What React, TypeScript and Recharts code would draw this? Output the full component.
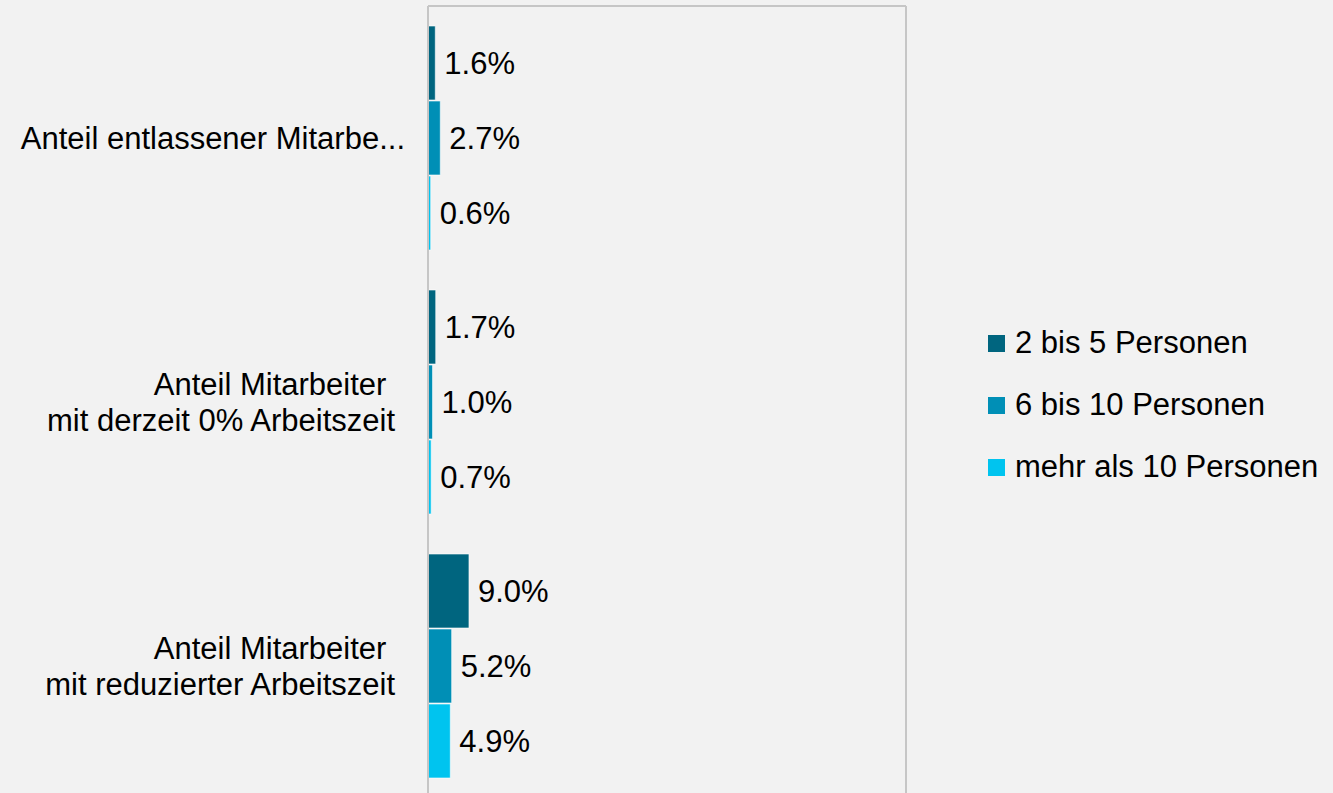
import { Bar, BarChart, LabelList, ReferenceLine, XAxis, YAxis } from 'recharts'

const categories = [
  ['Anteil entlassener Mitarbe...'],
  ['Anteil Mitarbeiter ', 'mit derzeit 0% Arbeitszeit'],
  ['Anteil Mitarbeiter ', 'mit reduzierter Arbeitszeit'],
]
const seriesNames = ['2 bis 5 Personen', '6 bis 10 Personen', 'mehr als 10 Personen']
const small = [1.6, 1.7, 9.0]
const medium = [2.7, 1.0, 5.2]
const large = [0.6, 0.7, 4.9]
const colors = ['#00657f', '#008fb6', '#00c4ef']

const FONT = 'Arial, "Liberation Sans", sans-serif'
const FS = 31

const data = categories.map((lines, i) => ({
  name: lines.join('\n'),
  s0: small[i],
  s1: medium[i],
  s2: large[i],
}))

function CategoryTick(props: any) {
  const { x, y, payload } = props
  const lines: string[] = String(payload.value).split('\n')
  const right = lines.length > 1 ? x - 25 : x - 15
  const start = -((lines.length - 1) * 36) / 2
  return (
    <text
      x={right}
      y={y}
      textAnchor="end"
      fontSize={FS}
      fontFamily={FONT}
      fill="#000"
      style={{ whiteSpace: 'pre' }}
    >
      {lines.map((l, i) => (
        <tspan key={i} x={right} dy={i === 0 ? start : 36} dominantBaseline="central">
          {l}
        </tspan>
      ))}
    </text>
  )
}

export default function App() {
  const keys = ['s0', 's1', 's2']
  return (
    <div
      style={{
        position: 'fixed',
        left: 0,
        top: 0,
        width: 1333,
        height: 793,
        overflow: 'hidden',
        background: '#f2f2f2',
        fontFamily: FONT,
      }}
    >
      <BarChart
        width={1333}
        height={800}
        data={data}
        layout="vertical"
        margin={{ top: 5, right: 427, bottom: 2, left: 0 }}
        barCategoryGap={20}
        barGap={1}
      >
        <XAxis
          type="number"
          orientation="top"
          domain={[0, 105]}
          height={1}
          tick={false}
          tickLine={false}
          axisLine={{ stroke: '#c6c6c6', strokeWidth: 2 }}
        />
        <YAxis
          type="category"
          dataKey="name"
          width={428}
          tickLine={false}
          axisLine={{ stroke: '#c6c6c6', strokeWidth: 2 }}
          tick={<CategoryTick />}
          interval={0}
        />
        <ReferenceLine x={105} stroke="#c6c6c6" strokeWidth={2} />
        {keys.map((k, i) => (
          <Bar
            key={k}
            dataKey={k}
            name={seriesNames[i]}
            fill={colors[i]}
            stroke="rgba(255,255,255,0.6)"
            strokeWidth={1}
            isAnimationActive={false}
          >
            <LabelList
              dataKey={k}
              position="right"
              offset={9}
              formatter={(v: any) => `${Number(v).toFixed(1)}%`}
              fill="#000"
              fontSize={FS}
              fontFamily={FONT}
            />
          </Bar>
        ))}
      </BarChart>
      <div style={{ position: 'absolute', left: 988, top: 323 }}>
        {seriesNames.map((n, i) => (
          <div
            key={n}
            style={{ display: 'flex', alignItems: 'center', height: 40, marginBottom: i < 2 ? 22 : 0 }}
          >
            <span style={{ width: 17, height: 17, background: colors[i], marginRight: 10, flexShrink: 0 }} />
            <span style={{ fontSize: FS, color: '#000', lineHeight: '40px' }}>{n}</span>
          </div>
        ))}
      </div>
    </div>
  )
}
